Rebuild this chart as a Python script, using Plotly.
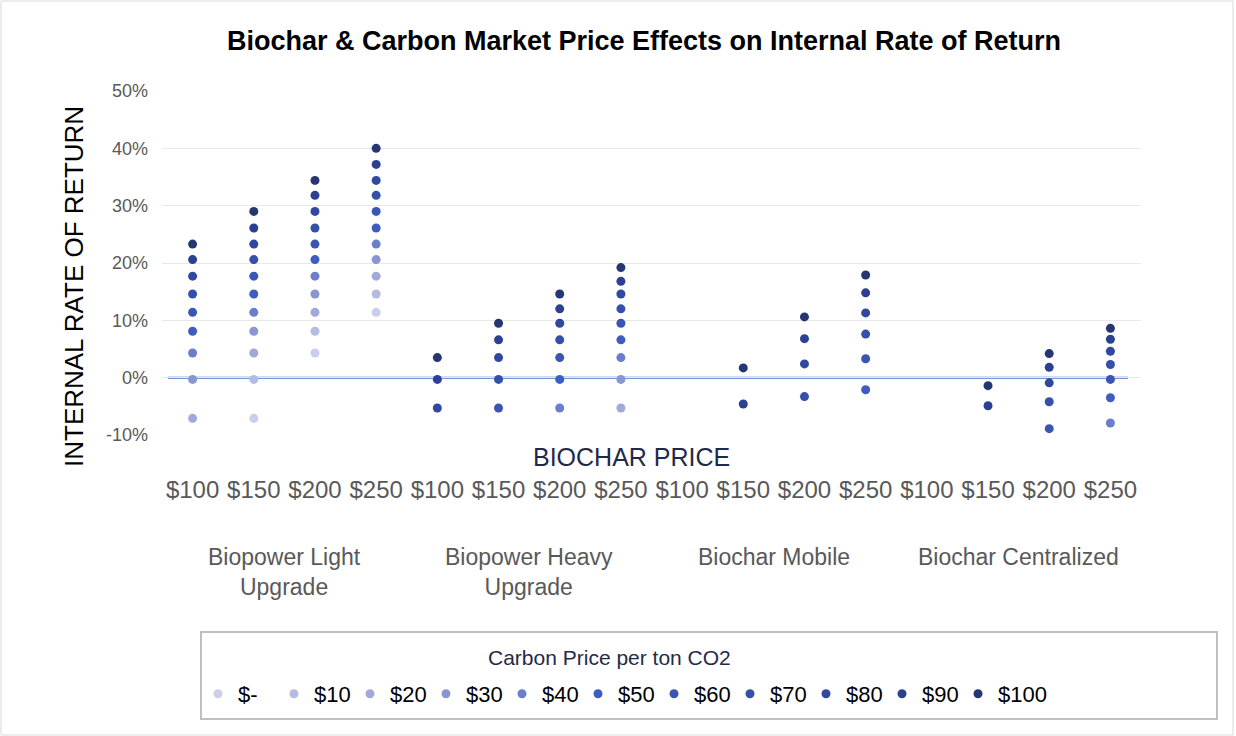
import plotly.graph_objects as go

# biochar price categories, grouped by system type
groups = ["Biopower Light<br>Upgrade", "Biopower Heavy<br>Upgrade", "Biochar Mobile", "Biochar Centralized"]
biochar_prices = ["$100", "$150", "$200", "$250"]

# carbon price series (legend) and their marker colours
carbon_prices = ["$-", "$10", "$20", "$30", "$40", "$50", "$60", "$70", "$80", "$90", "$100"]
colors = ["#C9CEEA", "#B5BCE2", "#A1A9DA", "#8A95D1", "#6C7ECB", "#3F5DC0",
          "#3A55B2", "#3550A8", "#30489E", "#2B4090", "#253670"]

# y axis ticks (IRR %)
y_ticks = [-10, 0, 10, 20, 30, 40, 50]
y_ticklabels = ["-10%", "0%", "10%", "20%", "30%", "40%", "50%"]

# IRR in % per carbon price, 16 columns (4 groups x 4 biochar prices), None = not shown
irr_0 = [None, -7.1, 4.3, 11.4, None, None, None, None, None, None, None, None, None, None, None, None]
irr_10 = [None, -0.3, 8.1, 14.6, None, None, None, None, None, None, None, None, None, None, None, None]
irr_20 = [-7.1, 4.3, 11.4, 17.7, None, None, None, -5.3, None, None, None, None, None, None, None, None]
irr_30 = [-0.3, 8.1, 14.6, 20.6, None, None, None, -0.3, None, None, None, None, None, None, None, None]
irr_40 = [4.3, 11.4, 17.7, 23.3, None, None, -5.3, 3.5, None, None, None, None, None, None, None, -7.9]
irr_50 = [8.1, 14.6, 20.6, 26.1, None, None, -0.3, 6.6, None, None, None, -2.1, None, None, None, -3.5]
irr_60 = [11.4, 17.7, 23.3, 29.0, None, -5.3, 3.5, 9.5, None, None, None, 3.3, None, None, -8.9, -0.3]
irr_70 = [14.6, 20.6, 26.1, 31.8, None, -0.3, 6.6, 12.0, None, None, -3.3, 7.6, None, None, -4.2, 2.3]
irr_80 = [17.7, 23.3, 29.0, 34.4, -5.3, 3.5, 9.5, 14.6, None, None, 2.4, 11.3, None, None, -0.9, 4.6]
irr_90 = [20.6, 26.1, 31.8, 37.2, -0.3, 6.6, 12.0, 16.8, None, -4.6, 6.8, 14.8, None, -4.9, 1.8, 6.7]
irr_100 = [23.3, 29.0, 34.4, 40.0, 3.5, 9.5, 14.6, 19.2, None, 1.7, 10.6, 17.9, None, -1.4, 4.2, 8.6]

series = [irr_0, irr_10, irr_20, irr_30, irr_40, irr_50, irr_60, irr_70, irr_80, irr_90, irr_100]

FONT = "Liberation Sans, Arial, sans-serif"
W, H = 1236, 736
L, R, T, B = 162, 95, 91, 301
PW, PH = W - L - R, H - T - B


def px(x):
    # pixel -> paper x
    return (x - L) / PW


def py(y):
    # pixel -> paper y
    return (H - B - y) / PH


ticktext = biochar_prices * len(groups)
xpos = list(range(len(ticktext)))

fig = go.Figure()
for name, vals, col in zip(carbon_prices, series, colors):
    fig.add_trace(go.Scatter(x=xpos, y=vals, mode="markers", name=name,
                             marker=dict(color=col, size=9)))
# empty spacer entry so the last legend label is not clipped
fig.add_trace(go.Scatter(x=[None], y=[None], mode="markers", name=" ",
                         marker=dict(color="rgba(0,0,0,0)", size=9), hoverinfo="skip"))

annotations = []
n = len(biochar_prices)
for i, g in enumerate(groups):
    annotations.append(dict(x=i * n + (n - 1) / 2, xref="x", y=py(542), yref="paper",
                            text=g, showarrow=False, yanchor="top",
                            font=dict(family=FONT, size=23, color="#595959")))
annotations.append(dict(x=px(631), xref="paper", y=py(457), yref="paper", text="BIOCHAR PRICE",
                        showarrow=False, xanchor="center", yanchor="middle",
                        font=dict(family=FONT, size=25, color="#1F2A4A")))
annotations.append(dict(x=px(74), xref="paper", y=py(287), yref="paper", text="INTERNAL RATE OF RETURN",
                        textangle=-90, showarrow=False, xanchor="center", yanchor="middle",
                        font=dict(family=FONT, size=26, color="#000000")))
annotations.append(dict(x=px(609), xref="paper", y=py(657), yref="paper", text="Carbon Price per ton CO2",
                        showarrow=False, xanchor="center", yanchor="middle",
                        font=dict(family=FONT, size=21, color="#1F2A4A")))

shapes = [
    # blue zero line (Excel horizontal axis)
    dict(type="line", xref="paper", yref="y", x0=px(168), x1=px(1128), y0=0, y1=0,
         line=dict(color="#4472C4", width=2), layer="between"),
    dict(type="rect", xref="paper", yref="paper", x0=px(201), x1=px(1217), y0=py(719), y1=py(632),
         line=dict(color="#BFBFBF", width=2)),
    dict(type="rect", xref="paper", yref="paper", x0=px(1), x1=px(1233), y0=py(735), y1=py(1),
         line=dict(color="#D9D9D9", width=1)),
]

fig.update_layout(
    width=W, height=H,
    margin=dict(l=L, r=R, t=T, b=B),
    plot_bgcolor="white", paper_bgcolor="white",
    font=dict(family=FONT),
    title=dict(text="<b>Biochar & Carbon Market Price Effects on Internal Rate of Return</b>",
               x=644 / W, xanchor="center", y=1 - 41 / H, yanchor="middle",
               font=dict(family=FONT, size=27, color="#000000")),
    xaxis=dict(range=[-0.5, len(ticktext) - 0.5], tickvals=xpos, ticktext=ticktext,
               showgrid=False, zeroline=False, showline=False, ticks="",
               ticklabelstandoff=38, tickfont=dict(family=FONT, size=24, color="#595959")),
    yaxis=dict(range=[-10, 50], tickvals=y_ticks, ticktext=y_ticklabels,
               showgrid=True, gridcolor="#E8E8E8", gridwidth=1, zeroline=False,
               showline=False, ticks="", ticklabelstandoff=13,
               tickfont=dict(family=FONT, size=18, color="#595959")),
    legend=dict(orientation="h", x=px(198), y=py(694), xanchor="left", yanchor="middle",
                font=dict(family=FONT, size=22, color="#000000"),
                entrywidth=31, itemsizing="trace", bgcolor="rgba(0,0,0,0)"),
    annotations=annotations,
    shapes=shapes,
)

fig.write_html("out.html", config={"displayModeBar": False},
               post_script="document.body.style.margin='0px';")
